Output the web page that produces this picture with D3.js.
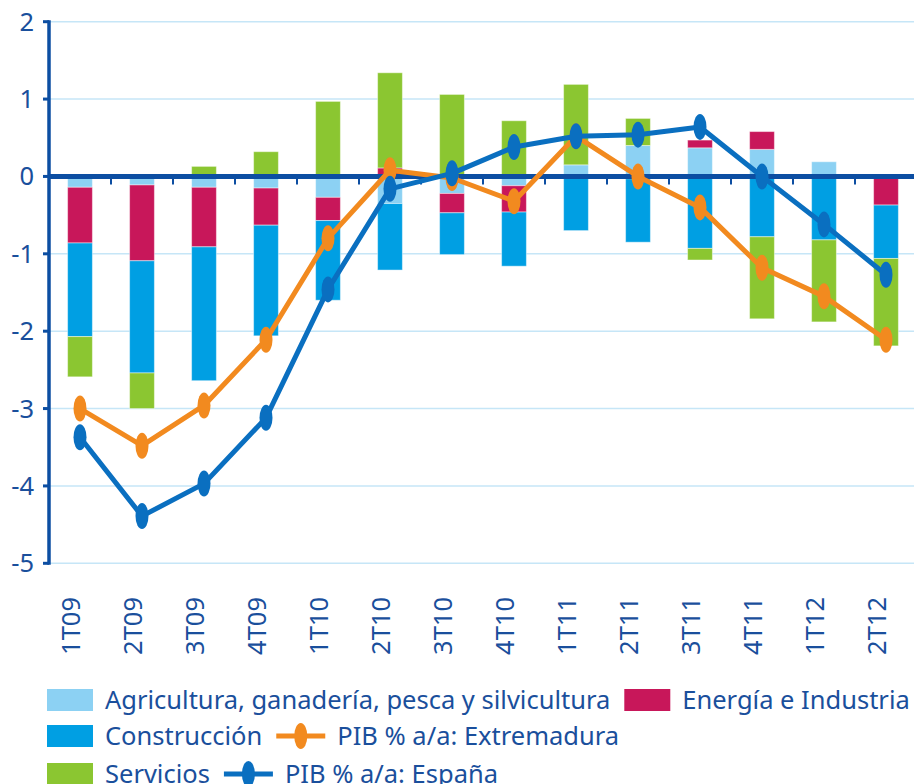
<!DOCTYPE html>
<html>
<head>
<meta charset="utf-8">
<script src="https://cdn.jsdelivr.net/npm/d3@7"></script>
<style>
  body { margin: 0; background: #fff; }
  text { font-family: "Noto Sans", sans-serif; fill: #1a4f9c; }
</style>
</head>
<body>
<script>
// categories (quarters)
var categories = ["1T09", "2T09", "3T09", "4T09", "1T10", "2T10", "3T10",
                  "4T10", "1T11", "2T11", "3T11", "4T11", "1T12", "2T12"];

// sector contributions (stacked bars)
var agricultura  = [-0.14, -0.11, -0.14, -0.15, -0.27, -0.35, -0.22, -0.12, 0.15, 0.40, 0.37, 0.35, 0.19, 0.00];
var energia      = [-0.72, -0.98, -0.77, -0.48, -0.30, 0.11, -0.25, -0.34, 0.00, -0.03, 0.10, 0.23, 0.00, -0.37];
var construccion = [-1.21, -1.45, -1.73, -1.43, -1.03, -0.86, -0.54, -0.70, -0.70, -0.82, -0.93, -0.78, -0.82, -0.69];
var servicios    = [-0.52, -0.46, 0.13, 0.32, 0.97, 1.23, 1.06, 0.72, 1.04, 0.35, -0.15, -1.06, -1.06, -1.13];

// GDP lines
var pibExtremadura = [-3.00, -3.48, -2.96, -2.11, -0.80, 0.08, -0.02, -0.32, 0.52, 0.00, -0.40, -1.18, -1.55, -2.11];
var pibEspana      = [-3.37, -4.39, -3.97, -3.12, -1.46, -0.16, 0.04, 0.38, 0.52, 0.54, 0.64, 0.00, -0.62, -1.27];

var yTicks = [2, 1, 0, -1, -2, -3, -4, -5];

var seriesNames = ["Agricultura, ganadería, pesca y silvicultura", "Energía e Industria", "Construcción", "Servicios"];
var seriesColors = ["#8cd1f3", "#c8175a", "#009fe3", "#8bc631"];
var colExt = "#f28a1f",
    colEsp = "#0a6fc0",
    axisCol = "#0c4ea2";

var width = 914, height = 784;
var fontSize = "25.5px";

var svg = d3.select("body").append("svg")
  .attr("width", width)
  .attr("height", height);

var x = d3.scaleBand()
  .domain(categories)
  .range([49, 917])
  .paddingInner(0.6)
  .paddingOuter(0.3);

var y = d3.scaleLinear()
  .domain([-5, 2])
  .range([563.3, 21.7]);

// gridlines
svg.append("g")
  .selectAll("line")
  .data(yTicks)
  .enter().append("line")
  .attr("x1", 49).attr("x2", width)
  .attr("y1", function(d) { return y(d); })
  .attr("y2", function(d) { return y(d); })
  .attr("stroke", "#c6e6f7")
  .attr("stroke-width", 1.5);

// build rows for the stack
var table = categories.map(function(c, i) {
  return { cat: c, a: agricultura[i], e: energia[i], c: construccion[i], s: servicios[i] };
});
var keys = ["a", "e", "c", "s"];
var stacked = d3.stack().keys(keys).offset(d3.stackOffsetDiverging)(table);

svg.append("g")
  .selectAll("g")
  .data(stacked)
  .enter().append("g")
  .attr("fill", function(d, i) { return seriesColors[i]; })
  .selectAll("rect")
  .data(function(d) { return d; })
  .enter().append("rect")
  .attr("x", function(d) { return x(d.data.cat); })
  .attr("width", x.bandwidth())
  .attr("y", function(d) { return y(Math.max(d[0], d[1])); })
  .attr("height", function(d) { return Math.abs(y(d[0]) - y(d[1])); })
  .attr("stroke", "rgba(255,255,255,0.45)")
  .attr("stroke-width", 1);

// left axis
var yAxis = svg.append("g");
yAxis.append("line")
  .attr("x1", 49).attr("x2", 49)
  .attr("y1", y(2) - 1.5).attr("y2", y(-5) + 1.5)
  .attr("stroke", axisCol)
  .attr("stroke-width", 3.5);
yAxis.selectAll("rect")
  .data(yTicks)
  .enter().append("rect")
  .attr("x", 43).attr("width", 6)
  .attr("y", function(d) { return y(d) - 1.5; })
  .attr("height", 3)
  .attr("fill", axisCol);
yAxis.selectAll("text")
  .data(yTicks)
  .enter().append("text")
  .attr("x", 34)
  .attr("y", function(d) { return y(d) + 9; })
  .attr("text-anchor", "end")
  .style("font-size", fontSize)
  .text(function(d) { return d; });

// zero line + category ticks
var zero = svg.append("g");
zero.selectAll("line.tick")
  .data(categories.slice(1))
  .enter().append("line")
  .attr("class", "tick")
  .attr("x1", function(d) { return x(d) - x.step() * x.paddingInner() / 2; })
  .attr("x2", function(d) { return x(d) - x.step() * x.paddingInner() / 2; })
  .attr("y1", y(0))
  .attr("y2", y(0) + 8)
  .attr("stroke", axisCol)
  .attr("stroke-width", 2);
zero.append("line")
  .attr("x1", 49).attr("x2", width)
  .attr("y1", y(0)).attr("y2", y(0))
  .attr("stroke", axisCol)
  .attr("stroke-width", 5);

// category labels
svg.append("g")
  .selectAll("text")
  .data(categories)
  .enter().append("text")
  .attr("transform", function(d) {
    return "translate(" + (x(d) + x.bandwidth() / 2) + ",597) rotate(-90)";
  })
  .attr("text-anchor", "end")
  .style("font-size", fontSize)
  .text(function(d) { return d; });

// lines
var line = d3.line()
  .x(function(d, i) { return x(categories[i]) + x.bandwidth() / 2; })
  .y(function(d) { return y(d); });

function drawLine(values, col) {
  var g = svg.append("g");
  g.append("path")
    .datum(values)
    .attr("d", line)
    .attr("fill", "none")
    .attr("stroke", col)
    .attr("stroke-width", 5)
    .attr("stroke-linejoin", "round");
  g.selectAll("ellipse")
    .data(values)
    .enter().append("ellipse")
    .attr("cx", function(d, i) { return x(categories[i]) + x.bandwidth() / 2; })
    .attr("cy", function(d) { return y(d); })
    .attr("rx", 6.5)
    .attr("ry", 13)
    .attr("fill", col);
}
drawLine(pibExtremadura, colExt);
drawLine(pibEspana, colEsp);

// legend, flowing left to right per row
var legendRows = [
  [{ type: "rect", color: seriesColors[0], label: seriesNames[0] },
   { type: "rect", color: seriesColors[1], label: seriesNames[1] }],
  [{ type: "rect", color: seriesColors[2], label: seriesNames[2] },
   { type: "line", color: colExt, label: "PIB % a/a: Extremadura" }],
  [{ type: "rect", color: seriesColors[3], label: seriesNames[3] },
   { type: "line", color: colEsp, label: "PIB % a/a: España" }]
];
var rowY = [700, 736, 774];

var legend = svg.append("g");
legendRows.forEach(function(row, r) {
  var cx = 47, cy = rowY[r];
  row.forEach(function(item) {
    if (item.type === "rect") {
      legend.append("rect")
        .attr("x", cx).attr("y", cy - 11)
        .attr("width", 46).attr("height", 22)
        .attr("fill", item.color);
    } else {
      legend.append("line")
        .attr("x1", cx).attr("x2", cx + 49)
        .attr("y1", cy).attr("y2", cy)
        .attr("stroke", item.color)
        .attr("stroke-width", 5);
      legend.append("ellipse")
        .attr("cx", cx + 24.5).attr("cy", cy)
        .attr("rx", 6.5).attr("ry", 13)
        .attr("fill", item.color);
    }
    var t = legend.append("text")
      .attr("x", cx + (item.type === "rect" ? 58 : 61))
      .attr("y", cy + 9)
      .style("font-size", fontSize)
      .text(item.label);
    cx = cx + (item.type === "rect" ? 58 : 61) + t.node().getComputedTextLength() + 14;
  });
});
</script>
</body>
</html>
